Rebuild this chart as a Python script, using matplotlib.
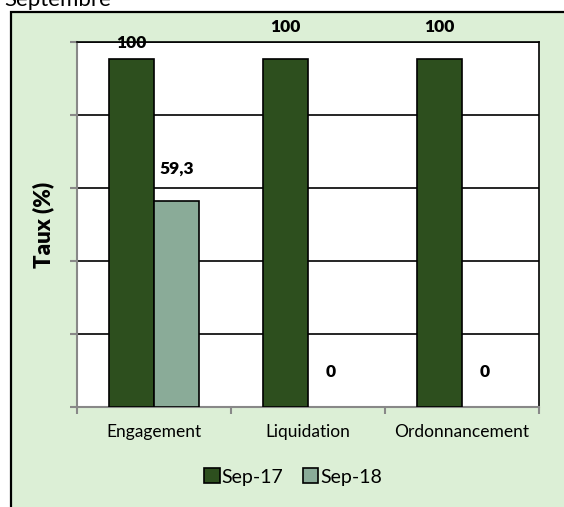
import matplotlib.pyplot as plt
import numpy as np
from matplotlib.patches import Rectangle

categories = ['Engagement', 'Liquidation', 'Ordonnancement']
sep17 = [100, 100, 100]
sep18 = [59.3, 0, 0]
labels17 = ['100', '100', '100']
labels18 = ['59,3', '0', '0']

plt.rcParams['font.family'] = ['Lato', 'DejaVu Sans']

dark = '#2d4f1e'
light = '#8aab98'
bg = '#dcefd6'

fig = plt.figure(figsize=(5.64, 5.07), dpi=100)
fig.patch.set_facecolor('white')

# green frame with black border (cut by the picture edge)
frame = Rectangle((11/564, -0.05), 1.1, 1.05 - 12/507, transform=fig.transFigure,
                  facecolor=bg, edgecolor='black', lw=1.6, zorder=-10)
fig.add_artist(frame)
fig.text(0.008, 1 - 6/507, 'Septembre', fontsize=16, va='baseline', ha='left')

ax = fig.add_axes([77/564, 1 - 407/507, 462/564, 365/507])
ax.set_facecolor('white')

x = np.arange(len(categories))
w = 0.29
b1 = ax.bar(x - w/2, sep17, w, color=dark, edgecolor='black', lw=1.2, zorder=3)
b2 = ax.bar(x + w/2, sep18, w, color=light, edgecolor='black',
            lw=[1.2 if v else 0 for v in sep18], zorder=3)

ax.set_xlim(-0.5, 2.5)
ax.set_ylim(0, 105)
ax.set_yticks(np.arange(0, 106, 21))
ax.set_yticklabels([])
ax.yaxis.grid(True, color='black', lw=1.2, zorder=0)
ax.tick_params(axis='y', length=5, color='#888888', width=1.5)

ax.set_xticks(x)
ax.set_xticklabels(categories, fontsize=12.5)
ax.tick_params(axis='x', which='major', length=0, pad=12)
ax.set_xticks([-0.5, 0.5, 1.5, 2.5], minor=True)
ax.tick_params(axis='x', which='minor', length=5, color='#888888', width=1.5)

for s in ['left', 'bottom']:
    ax.spines[s].set_color('#888888')
    ax.spines[s].set_linewidth(1.5)
ax.spines['top'].set_color('black')
ax.spines['top'].set_linewidth(1.2)
ax.spines['right'].set_color('black')
ax.spines['right'].set_linewidth(1.2)

offs17 = [12, 23, 23]
for i in range(len(categories)):
    ax.annotate(labels17[i], (x[i] - w/2, sep17[i]), xytext=(0, offs17[i]),
                textcoords='offset points', ha='center', va='center',
                fontsize=12.5, fontweight='heavy', zorder=5, annotation_clip=False)
    ax.annotate(labels18[i], (x[i] + w/2, sep18[i]), xytext=(0, 23 if sep18[i] else 25),
                textcoords='offset points', ha='center', va='center',
                fontsize=12.5, fontweight='heavy', zorder=5, annotation_clip=False)

ax.set_ylabel('Taux (%)', fontsize=16, fontweight='heavy', labelpad=8)

fig.legend([b1, b2], ['Sep-17', 'Sep-18'], loc='center', bbox_to_anchor=(293/564, 1 - 477/507),
           ncol=2, frameon=False, fontsize=14, handlelength=0.8, handleheight=0.8,
           handletextpad=0.1, columnspacing=1.0)

plt.savefig('out.png', dpi=100)
